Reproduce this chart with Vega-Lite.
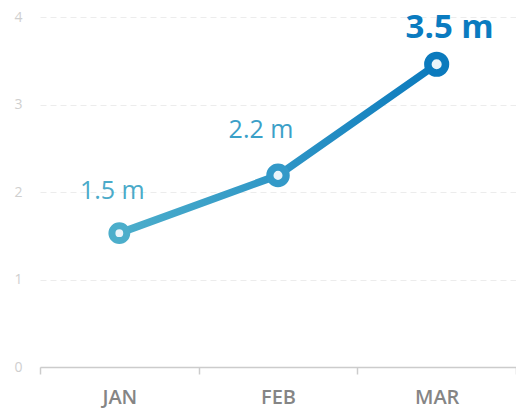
{
  "$schema": "https://vega.github.io/schema/vega-lite/v6.json",
  "autosize": "none",
  "width": 476,
  "height": 350,
  "padding": {"left": 40, "top": 17, "right": 0, "bottom": 42},
  "background": "white",
  "config": {
    "view": {"stroke": null},
    "font": "Open Sans"
  },
  "data": {
    "values": [
      {"month": "JAN", "value": 1.53, "label": "1.5 m"},
      {"month": "FEB", "value": 2.19, "label": "2.2 m"},
      {"month": "MAR", "value": 3.46, "label": "3.5 m"}
    ]
  },
  "encoding": {
    "x": {
      "field": "month",
      "type": "ordinal",
      "sort": ["JAN", "FEB", "MAR"],
      "scale": {"type": "band", "paddingInner": 0, "paddingOuter": 0},
      "axis": {
        "title": null,
        "labelAngle": 0,
        "labelFont": "Open Sans",
        "labelFontSize": 20,
        "labelFontWeight": 600,
        "labelColor": "#858585",
        "labelPadding": 13,
        "domainColor": "#cccccc",
        "domainWidth": 1.5,
        "tickColor": "#cccccc",
        "tickWidth": 1.5,
        "tickSize": 7,
        "tickBand": "extent",
        "grid": false
      }
    },
    "y": {
      "field": "value",
      "type": "quantitative",
      "scale": {"domain": [0, 4], "nice": false},
      "axis": {
        "title": null,
        "values": [0, 1, 2, 3, 4],
        "domain": false,
        "ticks": false,
        "labelFont": "Open Sans",
        "labelFontSize": 14,
        "labelColor": "#cfcfcf",
        "labelPadding": 18,
        "gridColor": "#ececec",
        "gridDash": [6, 4],
        "gridWidth": 1
      }
    }
  },
  "layer": [
    {
      "mark": {
        "type": "line",
        "strokeWidth": 7.5,
        "strokeCap": "round",
        "strokeJoin": "round",
        "stroke": {
          "gradient": "linear",
          "x1": 0, "y1": 0, "x2": 1, "y2": 0,
          "stops": [
            {"offset": 0, "color": "#4caecb"},
            {"offset": 0.5, "color": "#2f96c6"},
            {"offset": 1, "color": "#0b7abd"}
          ]
        }
      }
    },
    {
      "mark": {"type": "point", "shape": "circle", "filled": false, "fill": "#eaf4fa", "fillOpacity": 1, "opacity": 1},
      "encoding": {
        "stroke": {
          "field": "month",
          "type": "ordinal",
          "scale": {"domain": ["JAN", "FEB", "MAR"], "range": ["#4caecb", "#3399c8", "#0b7abd"]},
          "legend": null
        },
        "size": {
          "field": "month",
          "type": "ordinal",
          "scale": {"domain": ["JAN", "FEB", "MAR"], "range": [220, 310, 410]},
          "legend": null
        },
        "strokeWidth": {
          "field": "month",
          "type": "ordinal",
          "scale": {"domain": ["JAN", "FEB", "MAR"], "range": [7, 7.5, 8.5]},
          "legend": null
        }
      }
    },
    {
      "transform": [{"filter": "datum.month === 'JAN'"}],
      "mark": {"type": "text", "font": "Open Sans", "fontSize": 25, "fontWeight": 500, "color": "#4aaac9", "align": "center", "baseline": "alphabetic", "dx": -7, "dy": -34},
      "encoding": {"text": {"field": "label"}}
    },
    {
      "transform": [{"filter": "datum.month === 'FEB'"}],
      "mark": {"type": "text", "font": "Open Sans", "fontSize": 25, "fontWeight": 500, "color": "#3ba0c8", "align": "center", "baseline": "alphabetic", "dx": -17, "dy": -37},
      "encoding": {"text": {"field": "label"}}
    },
    {
      "transform": [{"filter": "datum.month === 'MAR'"}],
      "mark": {"type": "text", "font": "Open Sans", "fontSize": 33, "fontWeight": "bold", "color": "#0a7bc0", "align": "center", "baseline": "alphabetic", "dx": 13, "dy": -26},
      "encoding": {"text": {"field": "label"}}
    }
  ]
}
